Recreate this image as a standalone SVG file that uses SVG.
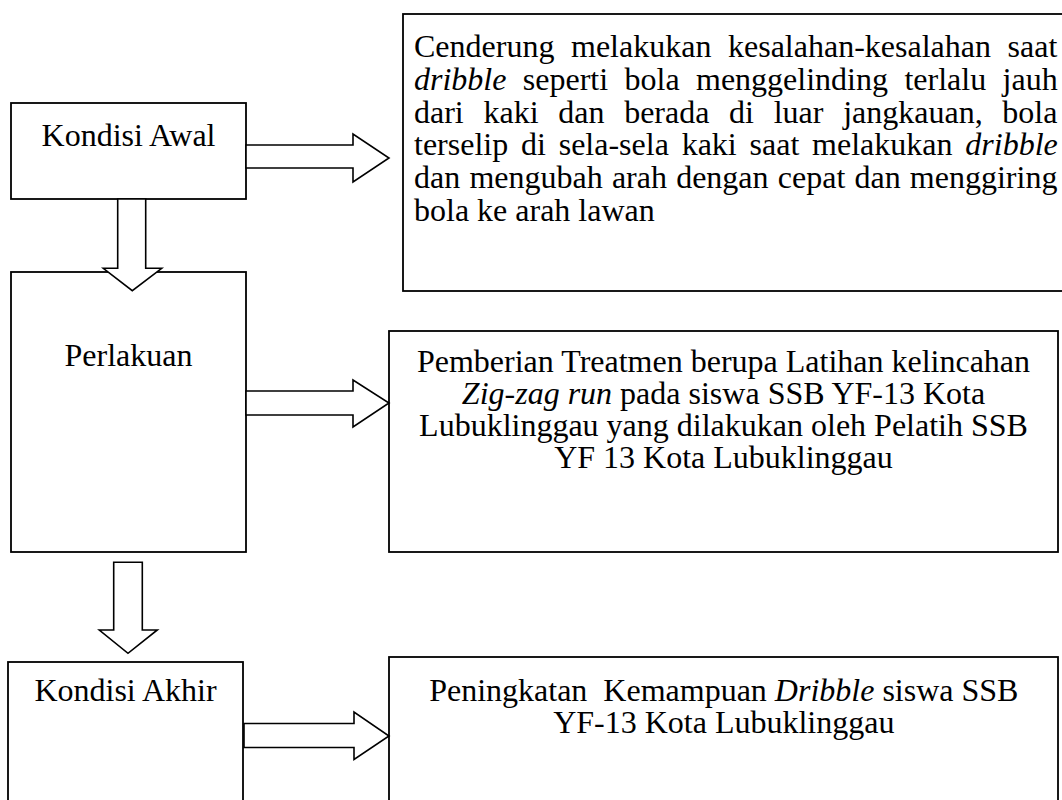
<svg xmlns="http://www.w3.org/2000/svg" width="1062" height="800" viewBox="0 0 1062 800">
<style>
.box{fill:#fff;stroke:#000;stroke-width:1.8}
.arr{fill:#fff;stroke:#000;stroke-width:1.6;stroke-linejoin:miter}
text{font-family:"Liberation Serif","Times New Roman",serif;font-size:32px;fill:#000}
.c{text-anchor:middle}
.i{font-style:italic}
</style>
<rect x="0" y="0" width="1062" height="800" fill="#fff"/>
<g id="kondisi-awal">
<rect class="box" x="11" y="103" width="235" height="96"/>
<text class="c" x="128.5" y="146">Kondisi Awal</text>
</g>
<g id="perlakuan">
<rect class="box" x="11" y="272" width="235" height="280"/>
<text class="c" x="128.5" y="366">Perlakuan</text>
</g>
<g id="kondisi-akhir">
<rect class="box" x="8" y="662" width="235" height="150"/>
<text class="c" x="125.5" y="701">Kondisi Akhir</text>
</g>
<g id="desc-awal">
<rect class="box" x="403" y="14" width="670" height="277"/>
<text x="414" y="57" style="word-spacing:8.6px">Cenderung melakukan kesalahan-kesalahan saat</text>
<text x="414" y="89.8" style="word-spacing:8.4px"><tspan class="i">dribble</tspan> seperti bola menggelinding terlalu jauh</text>
<text x="414" y="122.6" style="word-spacing:11.7px">dari kaki dan berada di luar jangkauan, bola</text>
<text x="414" y="155.4" style="word-spacing:4.8px">terselip di sela-sela kaki saat melakukan <tspan class="i">dribble</tspan></text>
<text x="414" y="188.2" style="word-spacing:1.2px">dan mengubah arah dengan cepat dan menggiring</text>
<text x="414" y="221">bola ke arah lawan</text>
</g>
<g id="desc-perlakuan">
<rect class="box" x="389" y="331" width="669" height="221"/>
<text class="c" x="723.5" y="372">Pemberian Treatmen berupa Latihan kelincahan</text>
<text class="c" x="723.5" y="404"><tspan class="i">Zig-zag run</tspan> pada siswa SSB YF-13 Kota</text>
<text class="c" x="723.5" y="436">Lubuklinggau yang dilakukan oleh Pelatih SSB</text>
<text class="c" x="723.5" y="468">YF 13 Kota Lubuklinggau</text>
</g>
<g id="desc-akhir">
<rect class="box" x="389" y="657" width="669" height="155"/>
<text class="c" x="723.8" y="701" xml:space="preserve">Peningkatan  Kemampuan <tspan class="i">Dribble</tspan> siswa SSB</text>
<text class="c" x="723.8" y="733">YF-13 Kota Lubuklinggau</text>
</g>
<g id="connectors">
<polygon class="arr" points="246,145 353,145 353,134 389,158 353,182 353,168 246,168"/>
<polygon class="arr" points="246,391 353,391 353,380 389,403 353,427 353,415 246,415"/>
<polygon class="arr" points="244,723.5 354,723.5 354,712 389,736 354,759.5 354,747.5 244,747.5"/>
<polygon class="arr" points="117.7,199 145.7,199 145.7,268.3 161.7,268.3 132.3,290.7 103.3,268.3 117.7,268.3"/>
<polygon class="arr" points="113.7,562.3 142.3,562.3 142.3,630 157.3,630 128,653.3 99.3,630 113.7,630"/>
</g>
</svg>
